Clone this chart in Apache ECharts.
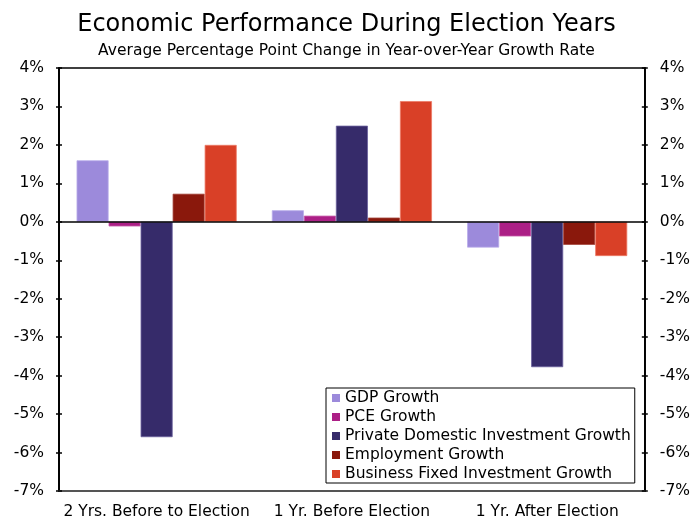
<!DOCTYPE html>
<html>
<head>
<meta charset="utf-8">
<script src="https://cdn.jsdelivr.net/npm/echarts@6/dist/echarts.min.js"></script>
<style>html,body{margin:0;padding:0;background:#fff}#c{width:693px;height:520px}</style>
</head>
<body>
<div id="c"></div>
<script>
var categories = ['2 Yrs. Before to Election', '1 Yr. Before Election', '1 Yr. After Election'];
var seriesNames = ['GDP Growth', 'PCE Growth', 'Private Domestic Investment Growth', 'Employment Growth', 'Business Fixed Investment Growth'];
var gdp = [1.6, 0.3, -0.67];
var pce = [-0.12, 0.16, -0.38];
var pdi = [-5.6, 2.5, -3.78];
var emp = [0.73, 0.11, -0.6];
var bfi = [2.0, 3.14, -0.89];
var yTicks = [-7, -6, -5, -4, -3, -2, -1, 0, 1, 2, 3, 4];

var colors = ['#9C8ADB', '#AC1F86', '#362B6A', '#8A180C', '#D94027'];
var borders = ['#B9ACEA', '#C45AA8', '#6A5F9C', '#A5483E', '#EC7A66'];
var values = [gdp, pce, pdi, emp, bfi];
var FONT = 'DejaVu Sans';
var FS = 15.5;

var chart = echarts.init(document.getElementById('c'), null, {renderer: 'canvas'});

function yAx(pos, inside, labels) {
  return {
    type: 'value', position: pos, min: yTicks[0], max: yTicks[yTicks.length - 1], interval: 1,
    axisLine: {show: true, lineStyle: {color: '#000', width: 1.5}},
    axisTick: {show: true, inside: inside, length: 3, lineStyle: {color: '#000', width: 1.5}},
    axisLabel: {show: labels, formatter: '{value}%', color: '#000', fontFamily: FONT, fontSize: FS, margin: 15},
    splitLine: {show: false}
  };
}

var series = values.map(function (v, i) {
  var s = {
    name: seriesNames[i], type: 'bar', data: v, yAxisIndex: 0,
    barGap: '0%', barCategoryGap: '18%',
    itemStyle: {color: colors[i], borderColor: borders[i], borderWidth: 0.8},
    emphasis: {disabled: true}
  };
  if (i === 0) {
    s.markLine = {
      silent: true, symbol: 'none', label: {show: false},
      lineStyle: {color: '#000', width: 1.5, type: 'solid'},
      data: [{yAxis: 0}], z: 10
    };
  }
  return s;
});

chart.setOption({
  animation: false,
  backgroundColor: '#fff',
  title: [{
    text: 'Economic Performance During Election Years',
    left: 'center', top: 8,
    textStyle: {fontFamily: FONT, fontSize: 24, fontWeight: 'normal', color: '#000'}
  }, {
    text: 'Average Percentage Point Change in Year-over-Year Growth Rate',
    left: 'center', top: 38,
    textStyle: {fontFamily: FONT, fontSize: FS, fontWeight: 'normal', color: '#000'}
  }],
  grid: {left: 59, right: 47, top: 68, bottom: 29, show: true, borderColor: '#000', borderWidth: 1.5, containLabel: false},
  legend: {
    orient: 'vertical', left: 326, top: 388,
    data: seriesNames,
    backgroundColor: '#fff', borderColor: '#000', borderWidth: 1,
    padding: [2, 4, 1, 6],
    itemWidth: 8, itemHeight: 8, itemGap: 3, icon: 'rect',
    itemStyle: {borderWidth: 0},
    textStyle: {fontFamily: FONT, fontSize: FS, color: '#000', lineHeight: 15.5},
    selectedMode: false
  },
  xAxis: {
    type: 'category', data: categories,
    axisLine: {show: true, onZero: false, lineStyle: {color: '#555', width: 2}},
    axisTick: {show: false},
    axisLabel: {color: '#000', fontFamily: FONT, fontSize: FS, margin: 13, interval: 0}
  },
  yAxis: [yAx('left', false, true), yAx('right', false, true), yAx('left', true, false), yAx('right', true, false)],
  series: series
});
</script>
</body>
</html>
